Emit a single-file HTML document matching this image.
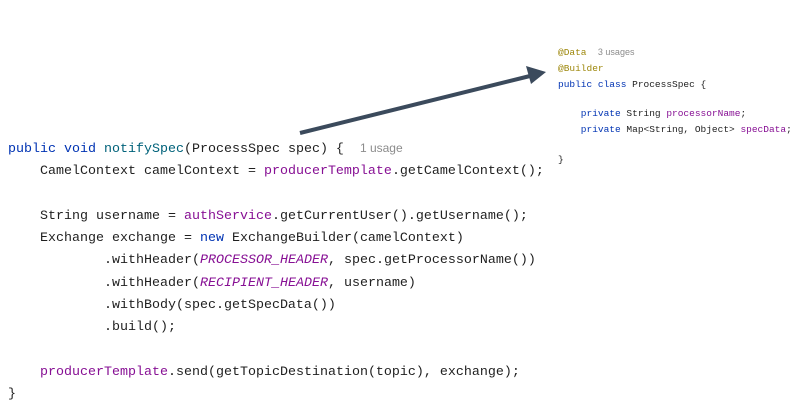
<!DOCTYPE html>
<html><head><style>
body{margin:0;width:800px;height:404px;background:#fff;position:relative;overflow:hidden}
pre{margin:0;position:absolute;font-family:"Liberation Mono",monospace;color:#1f1f1f}
.m{left:8px;top:137px;font-size:13.33px;line-height:22.3px}
.r{left:558px;font-size:9.5px;line-height:16px}
.k{color:#0033b3}.p{color:#871094}.g{color:#8c8c8c;font-family:"Liberation Sans",sans-serif}.a{color:#9e880d}
i{font-style:italic}
</style></head><body>
<pre class="m"><span class="k">public void</span> <span style="color:#00627a">notifySpec</span>(ProcessSpec spec) {  <span class="g" style="font-size:12px">1 usage</span>
    CamelContext camelContext = <span class="p">producerTemplate</span>.getCamelContext();

    String username = <span class="p">authService</span>.getCurrentUser().getUsername();
    Exchange exchange = <span class="k">new</span> ExchangeBuilder(camelContext)
            .withHeader(<i class="p">PROCESSOR_HEADER</i>, spec.getProcessorName())
            .withHeader(<i class="p">RECIPIENT_HEADER</i>, username)
            .withBody(spec.getSpecData())
            .build();

    <span class="p">producerTemplate</span>.send(getTopicDestination(topic), exchange);
}</pre>
<pre class="r" style="top:44px"><span class="a">@Data</span>  <span class="g" style="font-size:9px">3 usages</span>
<span class="a">@Builder</span>
<span class="k">public class</span> ProcessSpec {</pre>
<pre class="r" style="top:106px"><span class="k">    private</span> String <span class="p">processorName</span>;
<span class="k">    private</span> Map&lt;String, Object&gt; <span class="p">specData</span>;</pre>
<pre class="r" style="top:152px">}</pre>
<svg width="800" height="404" style="position:absolute;left:0;top:0">
<line x1="300" y1="133" x2="530" y2="76" stroke="#3b4a5c" stroke-width="4"/>
<polygon points="546,72 526,66 531,84" fill="#3b4a5c"/>
</svg>
</body></html>
